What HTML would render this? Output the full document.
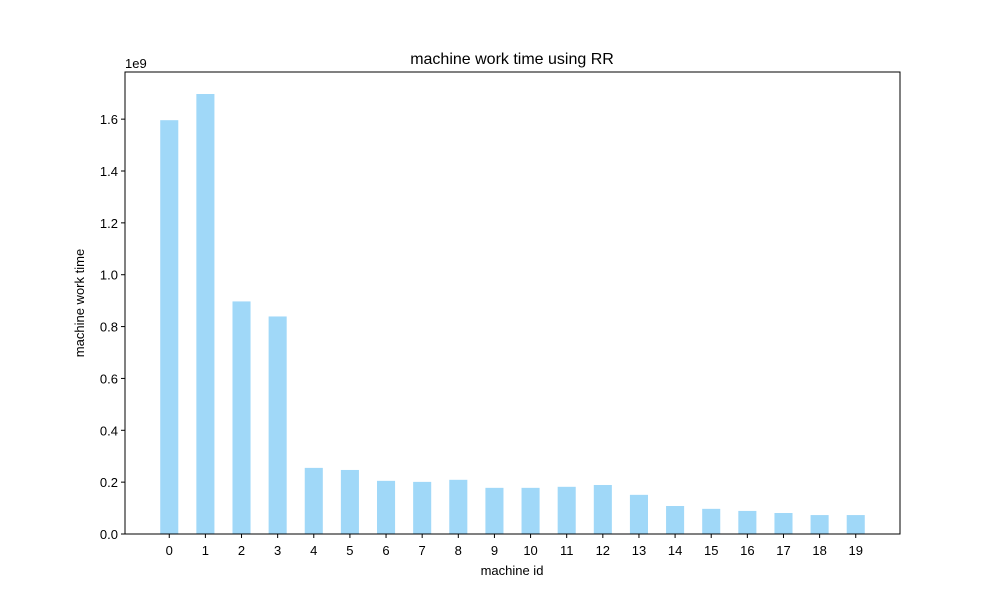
<!DOCTYPE html>
<html><head><meta charset="utf-8"><style>body{margin:0;background:#fff}svg{display:block;font-family:"Liberation Sans","DejaVu Sans",sans-serif}</style></head>
<body>
<svg id="chart" width="1000" height="600">
<rect width="1000" height="600" fill="#fff"/>
<text x="512" y="64" text-anchor="middle" font-size="16">machine work time using RR</text>
<text x="125" y="68" font-size="13">1e9</text>
<text x="512" y="575" text-anchor="middle" font-size="13">machine id</text>
<text transform="translate(84,303) rotate(-90)" text-anchor="middle" font-size="13">machine work time</text>
<g id="bars"></g><g id="xt"></g><g id="yt"></g>
<rect x="125" y="72" width="775" height="462" fill="none" stroke="#000" stroke-width="1"/>
</svg>
<script>
const categories=["0","1","2","3","4","5","6","7","8","9","10","11","12","13","14","15","16","17","18","19"];
const values=[1.596,1.697,0.897,0.839,0.255,0.247,0.205,0.201,0.209,0.178,0.178,0.182,0.189,0.151,0.108,0.097,0.089,0.081,0.073,0.073];
const yTicks=[0,0.2,0.4,0.6,0.8,1.0,1.2,1.4,1.6];
const yLabels=["0.0","0.2","0.4","0.6","0.8","1.0","1.2","1.4","1.6"];
const NS="http://www.w3.org/2000/svg";
const L=125,R=900,T=72,B=534;
const n=categories.length, xmin=-0.25-0.05*(n-0.5), xmax=n-1+0.25+0.05*(n-0.5);
const x=v=>L+(v-xmin)/(xmax-xmin)*(R-L);
const ymax=Math.max(...values)*1.05;
const y=v=>B-v/ymax*(B-T);
function mk(t,a,p){const e=document.createElementNS(NS,t);for(const k in a)e.setAttribute(k,a[k]);p.appendChild(e);return e;}
const bars=document.getElementById('bars'),xt=document.getElementById('xt'),yt=document.getElementById('yt');
values.forEach((v,i)=>{
 const r=mk('rect',{x:x(i-0.25),y:y(v),width:x(0.25)-x(-0.25),height:B-y(v),fill:'#a0d8f8'},bars);
 
 
 const tk=mk('line',{x1:x(i),x2:x(i),y1:B,y2:B+4,stroke:'#000'},xt);
 
 
 const tl=mk('text',{x:x(i),y:B+21,'text-anchor':'middle','font-size':13},xt);
 tl.textContent=categories[i];
 
 
});
yTicks.forEach((v,i)=>{
 const tk=mk('line',{x1:L-4,x2:L,y1:y(v),y2:y(v),stroke:'#000'},yt);
 
 
 const tl=mk('text',{x:L-7,y:y(v)+5,'text-anchor':'end','font-size':13},yt);
 tl.textContent=yLabels[i];
 
 
});
</script>
</body></html>
